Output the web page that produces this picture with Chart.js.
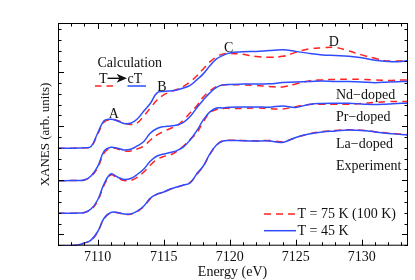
<!DOCTYPE html>
<html>
<head>
<meta charset="utf-8">
<script src="https://cdn.jsdelivr.net/npm/chart.js@4.4.1/dist/chart.umd.min.js"></script>
<style>
  html, body { margin: 0; padding: 0; background: #fff; }
  canvas { display: block; }
</style>
</head>
<body>
<canvas id="xanes" width="415" height="280"></canvas>
<script>
// photon energy grid (eV) shared by all curves
const energy = [7107, 7108, 7108.5, 7109, 7109.5, 7110, 7110.5, 7111, 7111.5, 7112,
    7112.5, 7113, 7113.5, 7114, 7114.5, 7115, 7115.5, 7116, 7116.5, 7117,
    7117.5, 7118, 7118.5, 7119, 7119.5, 7120, 7121, 7122, 7123, 7124,
    7125, 7126, 7127, 7128, 7129, 7130, 7131, 7132, 7133, 7133.5];

// calculation: T (red dashed) and cT (blue)
const calcRed = [2.593, 2.594, 2.596, 2.602, 2.620, 2.848, 3.080, 3.126, 3.107, 3.061,
    3.033, 3.061, 3.191, 3.339, 3.487, 3.580, 3.635, 3.681, 3.737, 3.820,
    3.931, 4.061, 4.191, 4.283, 4.339, 4.348, 4.330, 4.289, 4.278, 4.293,
    4.367, 4.431, 4.450, 4.456, 4.394, 4.320, 4.256, 4.206, 4.209, 4.209];
const calcBlue = [2.593, 2.594, 2.596, 2.602, 2.626, 2.870, 3.107, 3.130, 3.098, 3.052,
    3.056, 3.135, 3.283, 3.426, 3.617, 3.644, 3.654, 3.672, 3.706, 3.756,
    3.857, 3.969, 4.117, 4.246, 4.311, 4.357, 4.376, 4.385, 4.400, 4.413,
    4.385, 4.348, 4.320, 4.307, 4.293, 4.265, 4.219, 4.196, 4.200, 4.215];

// Nd-doped
const ndRed = [1.993, 1.994, 1.996, 2.006, 2.070, 2.228, 2.506, 2.598, 2.580, 2.543,
    2.543, 2.580, 2.635, 2.746, 2.839, 2.904, 2.959, 3.006, 3.117, 3.246,
    3.376, 3.543, 3.654, 3.737, 3.765, 3.765, 3.765, 3.756, 3.737, 3.728,
    3.783, 3.839, 3.857, 3.867, 3.867, 3.867, 3.857, 3.848, 3.857, 3.857];
const ndBlue = [1.993, 1.994, 1.996, 2.006, 2.080, 2.252, 2.543, 2.611, 2.593, 2.561,
    2.574, 2.635, 2.719, 2.876, 2.959, 2.993, 3.006, 3.024, 3.070, 3.178,
    3.339, 3.487, 3.617, 3.719, 3.765, 3.774, 3.780, 3.783, 3.785, 3.807,
    3.820, 3.826, 3.835, 3.826, 3.826, 3.820, 3.805, 3.820, 3.826, 3.826];

// Pr-doped
const prRed = [1.389, 1.391, 1.393, 1.404, 1.459, 1.617, 1.913, 2.098, 2.043, 1.996,
    1.996, 2.052, 2.154, 2.283, 2.385, 2.441, 2.469, 2.533, 2.635, 2.756,
    2.876, 3.080, 3.246, 3.311, 3.330, 3.330, 3.330, 3.339, 3.324, 3.320,
    3.363, 3.404, 3.407, 3.407, 3.407, 3.422, 3.441, 3.456, 3.456, 3.456];
const prBlue = [1.389, 1.391, 1.393, 1.404, 1.469, 1.635, 1.941, 2.117, 2.061, 2.015,
    2.033, 2.107, 2.209, 2.357, 2.450, 2.487, 2.515, 2.548, 2.617, 2.746,
    2.913, 3.117, 3.265, 3.339, 3.339, 3.352, 3.357, 3.357, 3.352, 3.376,
    3.348, 3.404, 3.422, 3.426, 3.426, 3.413, 3.400, 3.413, 3.426, 3.426];

// La-doped
const laRed = [0.789, 0.791, 0.802, 0.839, 0.892, 1.040, 1.295, 1.398, 1.400, 1.370,
    1.372, 1.420, 1.515, 1.660, 1.740, 1.780, 1.835, 1.872, 1.910, 1.962,
    2.105, 2.260, 2.480, 2.650, 2.733, 2.742, 2.735, 2.733, 2.735, 2.715,
    2.790, 2.860, 2.900, 2.922, 2.935, 2.925, 2.900, 2.872, 2.855, 2.845];
const laBlue = [0.789, 0.791, 0.802, 0.839, 0.894, 1.048, 1.302, 1.404, 1.404, 1.376,
    1.376, 1.428, 1.524, 1.672, 1.746, 1.783, 1.839, 1.876, 1.913, 1.950,
    2.117, 2.265, 2.487, 2.654, 2.728, 2.737, 2.731, 2.728, 2.728, 2.700,
    2.793, 2.857, 2.894, 2.913, 2.931, 2.922, 2.894, 2.867, 2.848, 2.839];

const xTickLabels = [7110, 7115, 7120, 7125, 7130];
const legendLabels = ["T = 75 K (100 K)", "T = 45 K"];

const RED = "#ff2222";
const BLUE = "#2f4cff";
const SERIF = "'Liberation Serif', 'DejaVu Serif', serif";

function pts(values) {
    return energy.map((e, i) => ({ x: e, y: values[i] }));
}

function redSet(values) {
    return { data: pts(values), borderColor: RED, borderWidth: 1.5, borderDash: [7, 5] };
}

function blueSet(values) {
    return { data: pts(values), borderColor: BLUE, borderWidth: 1.5 };
}

// frame, inward ticks, labels and legend
const decorations = {
    id: "decorations",
    afterDatasetsDraw(chart) {
        const { ctx, chartArea: a, scales: { x, y } } = chart;
        ctx.save();
        ctx.strokeStyle = "#000";
        ctx.lineWidth = 1;
        ctx.strokeRect(a.left + 0.5, a.top + 0.5, a.right - a.left - 1, a.bottom - a.top - 1);

        ctx.beginPath();
        for (let v = 7107; v <= 7133; v++) {
            const px = Math.round(x.getPixelForValue(v)) + 0.5;
            const len = v % 5 === 0 ? 6 : 3.5;
            ctx.moveTo(px, a.bottom); ctx.lineTo(px, a.bottom - len);
            ctx.moveTo(px, a.top); ctx.lineTo(px, a.top + len);
        }
        for (let k = 4; k <= 24; k++) {
            const py = Math.round(y.getPixelForValue(k * 0.2)) + 0.5;
            const len = k % 5 === 0 ? 6 : 3.5;
            ctx.moveTo(a.left, py); ctx.lineTo(a.left + len, py);
            ctx.moveTo(a.right, py); ctx.lineTo(a.right - len, py);
        }
        ctx.stroke();

        ctx.fillStyle = "#111";
        ctx.font = "14px " + SERIF;
        ctx.textBaseline = "alphabetic";
        ctx.textAlign = "left";
        ctx.fillText("Calculation", 97.5, 66.5);
        ctx.fillText("T", 99, 83);
        ctx.fillText("cT", 127.5, 83);
        ctx.fillText("Nd\u2212doped", 336, 99);
        ctx.fillText("Pr\u2212doped", 336, 120.5);
        ctx.fillText("La\u2212doped", 336, 148);
        ctx.fillText("Experiment", 336, 169.5);
        ctx.fillText(legendLabels[0], 297.5, 218);
        ctx.fillText(legendLabels[1], 297.5, 235);

        ctx.textAlign = "center";
        ctx.fillText("A", 113.7, 118.3);
        ctx.fillText("B", 162, 90.7);
        ctx.fillText("C", 228.7, 51.5);
        ctx.fillText("D", 333.8, 45.7);
        ctx.fillText("Energy (eV)", 232.5, 275.5);

        ctx.save();
        ctx.font = "13px " + SERIF;
        ctx.translate(49, 134.5);
        ctx.rotate(-Math.PI / 2);
        ctx.fillText("XANES (arb. units)", 0, 0);
        ctx.restore();

        // T -> cT arrow
        ctx.beginPath();
        ctx.moveTo(107.5, 78.3); ctx.lineTo(120, 78.3);
        ctx.lineWidth = 1.3;
        ctx.stroke();
        ctx.beginPath();
        ctx.moveTo(127, 78.3);
        ctx.lineTo(116.5, 73.8);
        ctx.lineTo(119.5, 78.3);
        ctx.lineTo(116.5, 82.8);
        ctx.closePath();
        ctx.fill();

        // little line samples
        ctx.lineWidth = 1.5;
        ctx.strokeStyle = RED;
        ctx.setLineDash([6.5, 5]);
        ctx.beginPath(); ctx.moveTo(95, 86); ctx.lineTo(113.5, 86); ctx.stroke();
        ctx.setLineDash([7, 5]);
        ctx.beginPath(); ctx.moveTo(264, 214); ctx.lineTo(296, 214); ctx.stroke();
        ctx.setLineDash([]);
        ctx.strokeStyle = BLUE;
        ctx.beginPath(); ctx.moveTo(127.5, 86); ctx.lineTo(146, 86); ctx.stroke();
        ctx.beginPath(); ctx.moveTo(264, 230.7); ctx.lineTo(296, 230.7); ctx.stroke();
        ctx.restore();
    }
};

new Chart(document.getElementById("xanes"), {
    type: "line",
    data: {
        datasets: [
            blueSet(calcBlue), redSet(calcRed),
            blueSet(ndBlue), redSet(ndRed),
            blueSet(prBlue), redSet(prRed),
            blueSet(laBlue), redSet(laRed)
        ]
    },
    options: {
        responsive: false,
        animation: false,
        layout: { padding: { top: 23, right: 7, left: 58, bottom: 0 } },
        elements: {
            point: { radius: 0 },
            line: { tension: 0.4, fill: false }
        },
        plugins: {
            legend: { display: false },
            tooltip: { enabled: false }
        },
        scales: {
            x: {
                type: "linear",
                min: 7107,
                max: 7133.5,
                grid: { display: false, drawTicks: false },
                border: { display: false },
                afterBuildTicks: s => { s.ticks = xTickLabels.map(v => ({ value: v })); },
                afterFit: s => { s.height = 34.3; },
                ticks: {
                    padding: 3,
                    color: "#111",
                    maxRotation: 0,
                    font: { family: SERIF, size: 14 },
                    callback: v => String(v)
                }
            },
            y: {
                display: false,
                min: 0.79,
                max: 4.91
            }
        }
    },
    plugins: [decorations]
});
</script>
</body>
</html>
